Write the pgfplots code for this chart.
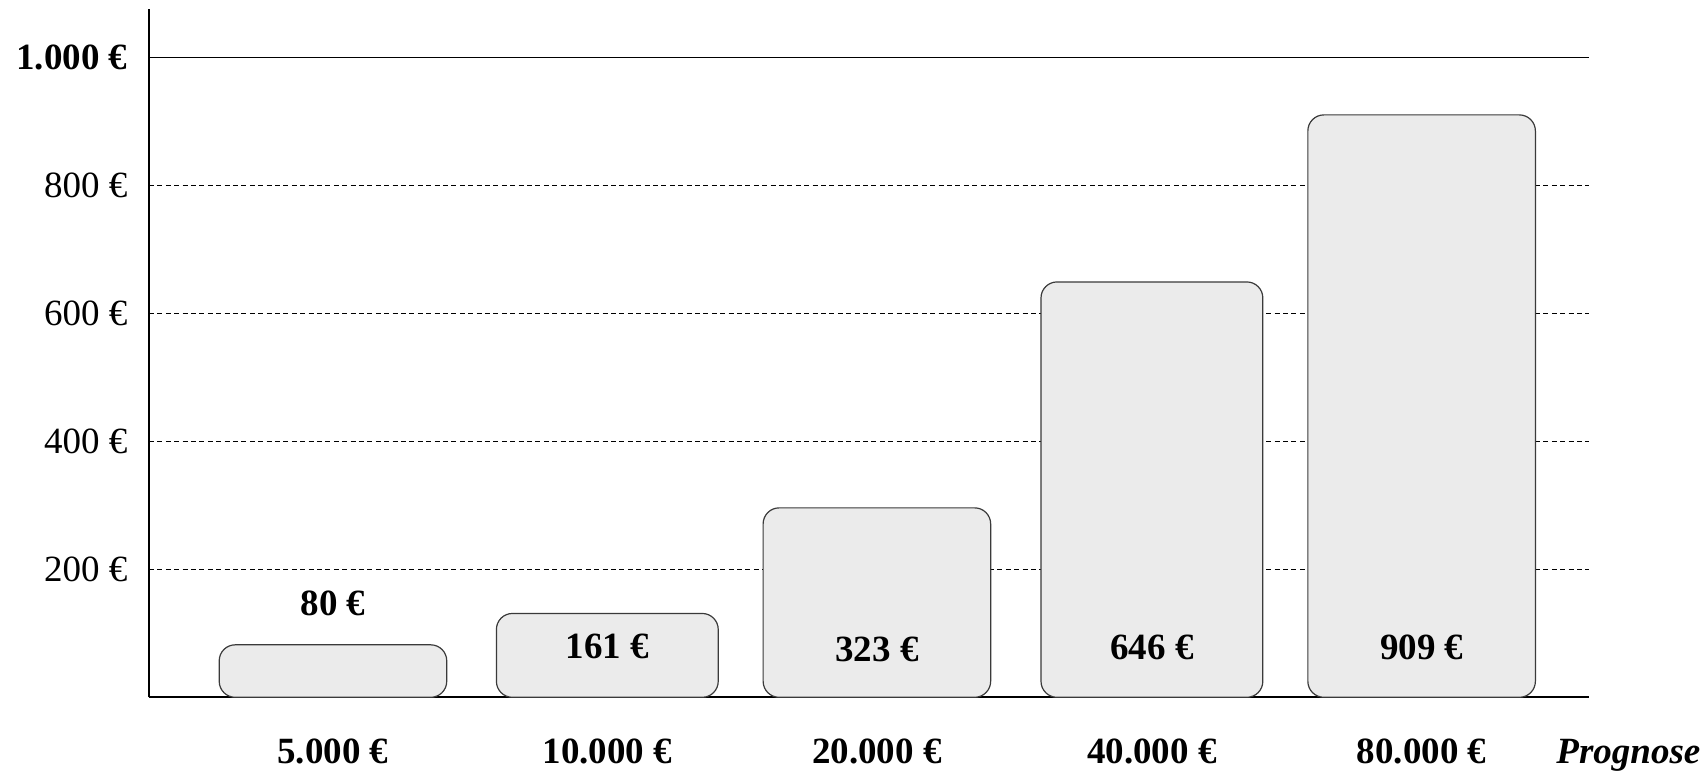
\documentclass[border=0pt]{standalone}
\usepackage{pgfplots}
\pgfplotsset{compat=1.18}
\usepackage{fontspec}
\setmainfont{Liberation Serif}
\definecolor{barfill}{HTML}{EBEBEB}
\definecolor{bardraw}{HTML}{3A3A3A}
\newcommand{\fs}{\fontsize{18.5}{22}\selectfont}
\begin{document}
\begin{tikzpicture}
\begin{axis}[
  scale only axis,
  width=720pt, height=344pt,
  xmin=-0.676, xmax=4.615,
  ymin=0, ymax=1075,
  axis lines=left,
  axis line style={-, line width=1pt, black},
  ybar,
  xtick={0,1.008,1.9985,3.009,4},
  xticklabels={\textbf{5.000 €},\textbf{10.000 €},\textbf{20.000 €},\textbf{40.000 €},\textbf{80.000 €}},
  ytick={200,400,600,800},
  yticklabels={200 €,400 €,600 €,800 €},
  extra y ticks={1000},
  extra y tick labels={\textbf{1.000 €}},
  extra y tick style={grid style={solid, line width=0.7pt, black}},
  ymajorgrids,
  grid style={black, line width=0.6pt, dash pattern=on 2.5pt off 1.7pt},
  major tick length=0pt,
  tick style={draw=none},
  ticklabel style={font=\fs},
  xticklabel style={anchor=base, yshift=-33pt},
  yticklabel style={anchor=east, xshift=-7.3pt},
  clip=false,
  /pgf/number format/assume math mode=true,
]
\addplot[fill=barfill, draw=bardraw, line width=0.6pt, rounded corners=8pt, bar width=0.836, bar shift=0pt]
  coordinates {(0,82) (1.9985,296) (4,910)};
\addplot[fill=barfill, draw=bardraw, line width=0.6pt, rounded corners=8pt, bar width=0.815, bar shift=0pt]
  coordinates {(1.008,131) (3.009,649)};
\node[anchor=base, font=\bfseries\fs] at (axis cs:0,128) {80 €};
\node[anchor=base, font=\bfseries\fs] at (axis cs:1.008,61) {161 €};
\node[anchor=base, font=\bfseries\fs] at (axis cs:1.9985,56) {323 €};
\node[anchor=base, font=\bfseries\fs] at (axis cs:3.009,59.5) {646 €};
\node[anchor=base, font=\bfseries\fs] at (axis cs:4,59.5) {909 €};
\node[anchor=base west, inner sep=0pt, font=\bfseries\itshape\fs] at (rel axis cs:0.9771,-0.0959) {Prognose};
\coordinate (bbsw) at (rel axis cs:-0.10347,-0.10858);
\coordinate (bbne) at (rel axis cs:1.07986,1.01352);
\end{axis}
\pgfresetboundingbox
\path[use as bounding box] (bbsw) rectangle (bbne);
\end{tikzpicture}
\end{document}
